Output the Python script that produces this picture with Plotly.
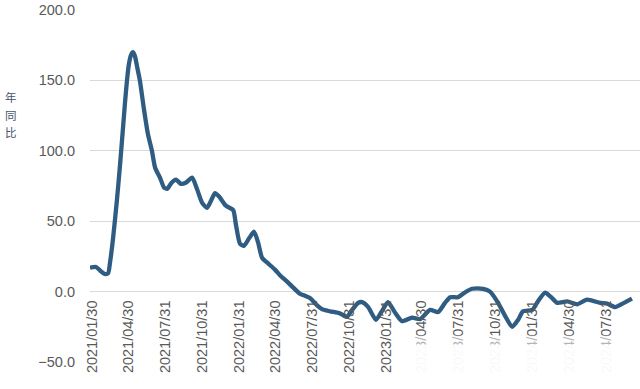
import plotly.graph_objects as go

dates = [
    "2021-01-25", "2021-02-09", "2021-02-19", "2021-03-03", "2021-03-11", "2021-03-16",
    "2021-03-23", "2021-04-02", "2021-04-10", "2021-04-17", "2021-04-22", "2021-04-27",
    "2021-05-02", "2021-05-07", "2021-05-12", "2021-05-17", "2021-05-22", "2021-05-29",
    "2021-06-08", "2021-06-18", "2021-06-28", "2021-07-06", "2021-07-18", "2021-07-28",
    "2021-08-05", "2021-08-15", "2021-08-27", "2021-09-08", "2021-09-21", "2021-10-06",
    "2021-10-18", "2021-10-31", "2021-11-12", "2021-11-22", "2021-12-02", "2021-12-12",
    "2021-12-29", "2022-01-16", "2022-01-23", "2022-02-02", "2022-02-12", "2022-02-25",
    "2022-03-09", "2022-03-19", "2022-03-29", "2022-04-13", "2022-04-30", "2022-05-13",
    "2022-06-02", "2022-06-14", "2022-07-01", "2022-07-14", "2022-07-26", "2022-08-10",
    "2022-08-25", "2022-09-14", "2022-10-09", "2022-10-26", "2022-11-08", "2022-11-23",
    "2022-12-03", "2022-12-18", "2023-01-06", "2023-01-21", "2023-02-05", "2023-02-23",
    "2023-03-12", "2023-04-06", "2023-04-26", "2023-05-21", "2023-06-10", "2023-06-27",
    "2023-07-10", "2023-07-29", "2023-08-16", "2023-09-02", "2023-09-30", "2023-10-17",
    "2023-11-06", "2023-11-23", "2023-12-11", "2023-12-26", "2024-01-07", "2024-01-30",
    "2024-02-13", "2024-03-02", "2024-03-17", "2024-04-01", "2024-04-26", "2024-05-21",
    "2024-06-14", "2024-07-17", "2024-08-03", "2024-08-23", "2024-09-14", "2024-10-04",
]
yoy = [
    17.0, 17.5, 15.0, 12.5, 13.0, 21.0,
    37.0, 65.0, 91.0, 116.0, 134.0, 150.0,
    162.0, 168.0, 170.0, 167.0, 160.0, 150.0,
    130.0, 112.0, 100.0, 88.0, 81.0, 74.0,
    73.0, 77.0, 79.5, 76.5, 77.5, 81.0,
    73.0, 63.0, 59.5, 64.5, 70.0, 67.5,
    61.0, 58.0, 47.5, 34.0, 32.5, 38.0,
    42.5, 35.0, 24.0, 20.0, 15.6, 11.5,
    6.4, 3.0, -1.5, -3.0, -4.5, -9.0,
    -12.5, -14.0, -15.5, -18.0, -13.0, -8.0,
    -7.5, -11.0, -20.0, -14.0, -7.5, -15.0,
    -21.0, -18.5, -19.5, -13.0, -14.5, -8.0,
    -4.0, -4.0, -0.5, 2.0, 2.0, 0.0,
    -8.0, -17.0, -25.0, -20.0, -14.0, -13.0,
    -7.0, -0.7, -4.0, -8.0, -7.0, -9.0,
    -5.7, -8.0, -8.5, -11.0, -8.0, -5.0,
]

tick_dates = ["2021-01-30", "2021-04-30", "2021-07-31", "2021-10-31", "2022-01-31",
              "2022-04-30", "2022-07-31", "2022-10-31", "2023-01-31", "2023-04-30",
              "2023-07-31", "2023-10-31", "2024-01-31", "2024-04-30", "2024-07-31"]
tick_text = [d.replace("-", "/") for d in tick_dates]
y_ticks = [-50, 0, 50, 100, 150, 200]
title_chars = ["年", "同", "比"]

fig = go.Figure()
fig.add_trace(go.Scatter(
    x=dates, y=yoy, mode="lines",
    line=dict(color="#2F5C82", width=4.3, shape="spline", smoothing=0.6),
    showlegend=False, hoverinfo="skip",
))

font = "Liberation Sans, Arial, sans-serif"
annotations = [
    dict(text=ch, xref="paper", yref="paper", x=-0.143, y=0.752 - 0.05 * i,
         xanchor="center", yanchor="middle", showarrow=False, borderpad=0,
         font=dict(family="Noto Sans CJK SC", size=11.5, color="#44546A"))
    for i, ch in enumerate(title_chars)
]

fig.update_layout(
    width=640, height=389,
    margin=dict(l=90, r=0, t=10, b=27),
    paper_bgcolor="white", plot_bgcolor="white",
    xaxis=dict(
        type="date", range=["2021-01-25", "2024-10-24"],
        tickvals=tick_dates, ticktext=tick_text, tickangle=-90,
        tickfont=dict(family=font, size=14.5, color="#595959"),
        showgrid=False, zeroline=False, showline=False, ticks="",
        anchor="free", position=0.2, ticklabelstandoff=5,
        automargin=False,
    ),
    yaxis=dict(
        range=[-50, 200], tickvals=y_ticks, tickformat=".1f",
        tickfont=dict(family=font, size=14.5, color="#595959"),
        showgrid=True, gridcolor="#D9D9D9", gridwidth=1,
        zeroline=False, showline=False, ticks="",
        ticklabelstandoff=14, automargin=False,
    ),
    annotations=annotations,
    shapes=[
        dict(type="rect", xref="paper", yref="paper", x0=0.55, x1=1.0,
             y0=-0.08, y1=0.075, fillcolor="white", opacity=0.55, line_width=0,
             layer="above"),
        dict(type="rect", xref="paper", yref="paper", x0=0.555, x1=1.0,
             y0=-0.08, y1=0.05, fillcolor="white", opacity=0.9, line_width=0,
             layer="above"),
    ],
)

fig.write_html("out.html", config={"displayModeBar": False},
               post_script="document.body.style.margin='0';")
